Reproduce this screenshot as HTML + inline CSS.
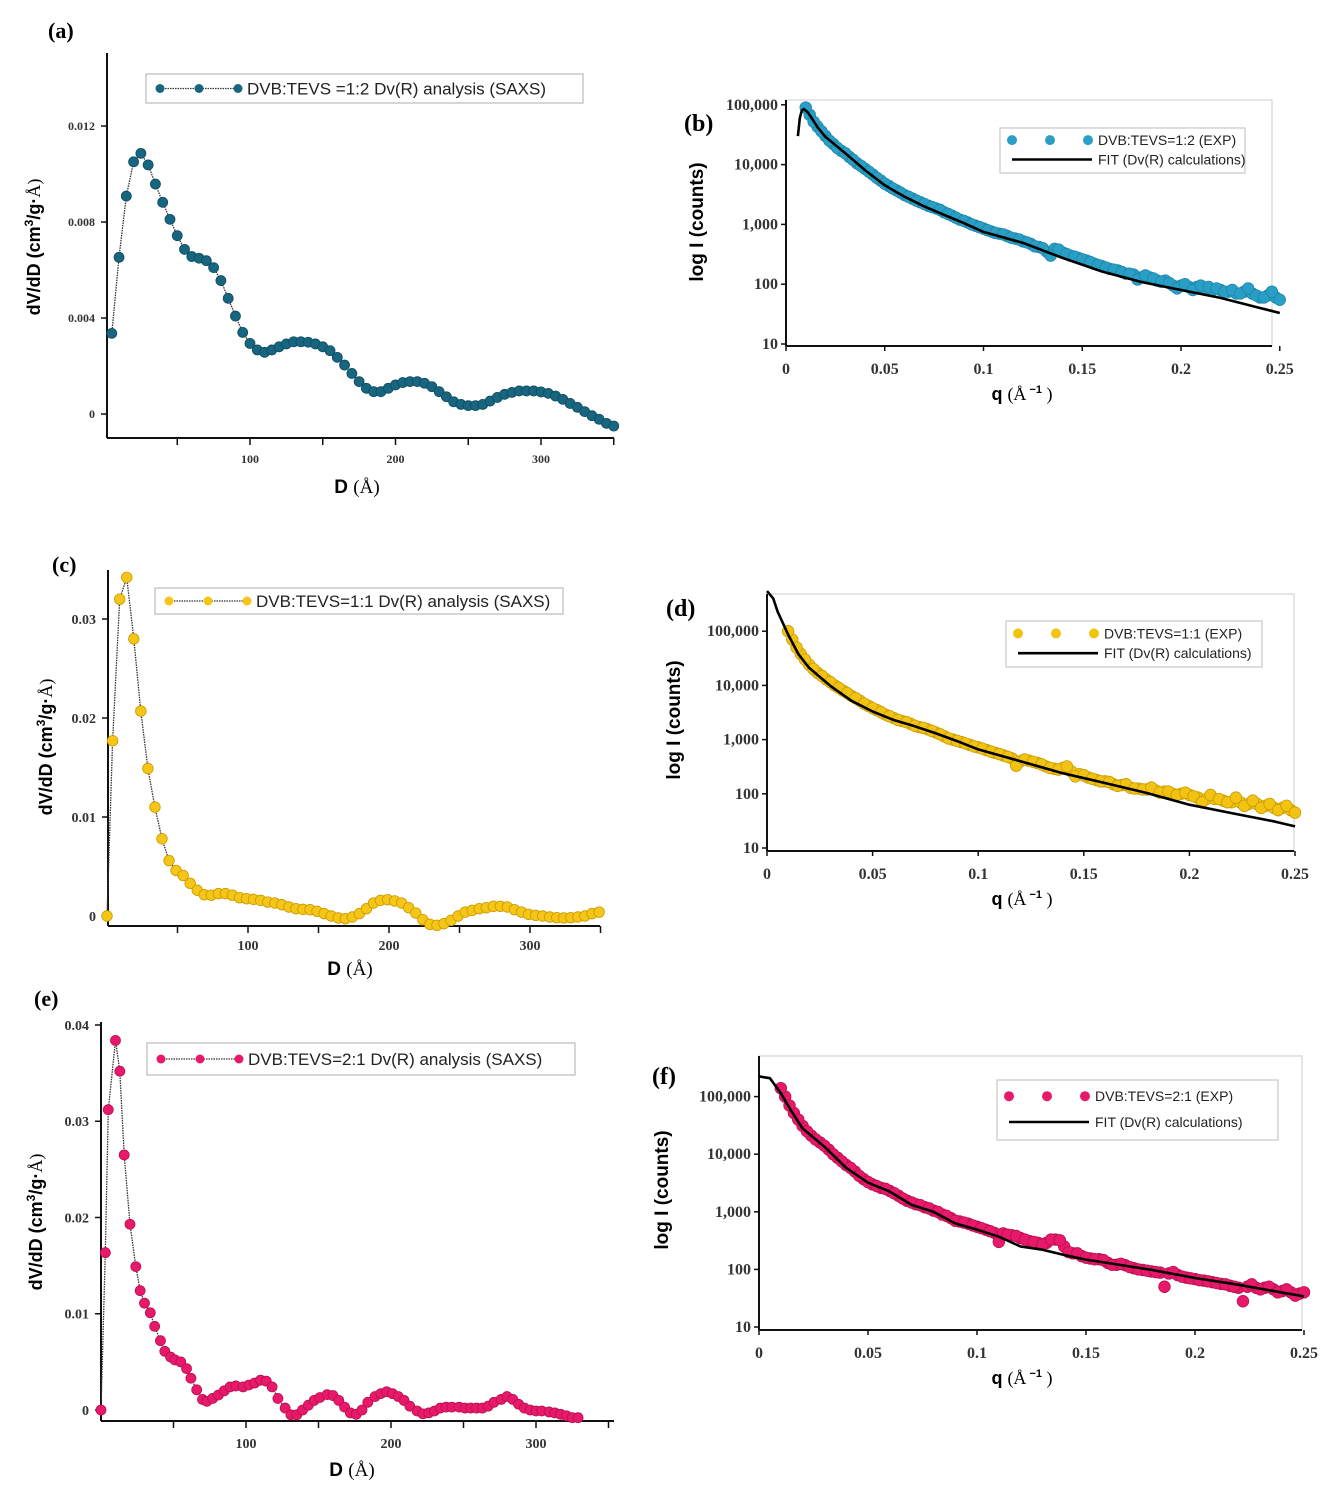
<!DOCTYPE html>
<html><head><meta charset="utf-8"><style>
html,body{margin:0;padding:0;background:#fff}
svg{display:block}
</style></head><body>
<svg id="fig" width="1324" height="1492" viewBox="0 0 1324 1492" xmlns="http://www.w3.org/2000/svg" font-family="Liberation Sans, sans-serif">
</svg>
<script>
// ---------- data: panel (a) ----------
const dA = [5,10,15,20,25,30,35,40,45,50,55,60,65,70,75,80,85,90,95,100,105,110,115,120,125,130,135,140,145,150,155,160,165,170,175,180,185,190,195,200,205,210,215,220,225,230,235,240,245,250,255,260,265,270,275,280,285,290,295,300,305,310,315,320,325,330,335,340,345,350];
const vA = [0.00336,0.00653,0.00908,0.01051,0.01086,0.01038,0.00958,0.00882,0.00811,0.00743,0.00686,0.00656,0.00649,0.00639,0.0061,0.00556,0.00482,0.00408,0.0034,0.00294,0.00267,0.00257,0.00267,0.0028,0.00292,0.00301,0.00301,0.00299,0.00292,0.0028,0.00264,0.00236,0.00204,0.00169,0.00135,0.00107,0.00093,0.00093,0.00107,0.00121,0.00131,0.00135,0.00135,0.00128,0.00114,0.00093,0.00072,0.00051,0.0004,0.00035,0.00035,0.0004,0.00054,0.00069,0.00082,0.0009,0.00096,0.00096,0.00096,0.00092,0.00086,0.00075,0.00061,0.00044,0.00028,0.0001,-0.00007,-0.00022,-0.00039,-0.0005];
const yTicksA = [0,0.004,0.008,0.012];
const yLabelsA = ["0","0.004","0.008","0.012"];
const xTicksA = [100,200,300];
// ---------- data: panel (c) ----------
const dC = [0,4,9,14,19,24,29,34,39,44,49,54,59,64,69,74,79,84,89,94,99,104,109,114,119,124,129,134,139,144,149,154,159,164,169,174,179,184,189,194,199,204,209,214,219,224,229,234,239,244,249,254,259,264,269,274,279,284,289,294,299,304,309,314,319,324,329,334,339,344,349];
const vC = [0,0.0177,0.032,0.0342,0.028,0.0207,0.0149,0.011,0.0078,0.0056,0.0046,0.0041,0.0033,0.0026,0.00215,0.0021,0.00226,0.00226,0.0021,0.00185,0.00175,0.00168,0.00158,0.00141,0.00131,0.00114,0.00091,0.00074,0.00067,0.00064,0.00047,0.00024,0,-0.0002,-0.00027,-0.0001,0.00024,0.00074,0.00131,0.00158,0.00165,0.00152,0.00131,0.00084,0.0003,-0.00037,-0.00084,-0.00094,-0.00077,-0.00044,0,0.0004,0.00057,0.00074,0.00084,0.00098,0.00098,0.00091,0.00064,0.0004,0.00017,0.00007,0,-0.0001,-0.00017,-0.0002,-0.00017,-0.0001,0,0.00024,0.0004];
const yTicksC = [0,0.01,0.02,0.03];
const yLabelsC = ["0","0.01","0.02","0.03"];
const xTicksC = [100,200,300];
// ---------- data: panel (e) ----------
const dE = [0,3,5,10,13,16,20,24,27,30,34,37,41,44,48,51,55,59,62,66,70,73,77,81,85,89,93,98,102,106,110,114,118,122,127,131,135,139,143,147,151,156,160,164,168,172,176,180,184,189,193,197,201,205,209,213,218,222,226,230,234,238,242,247,251,255,259,263,267,271,276,280,284,288,292,296,300,304,309,313,317,321,325,329];
const vE = [0,0.01635,0.0312,0.0384,0.0352,0.0265,0.0193,0.0149,0.0124,0.0111,0.0101,0.0087,0.0072,0.0061,0.0055,0.0052,0.005,0.0043,0.0033,0.0021,0.0011,0.0009,0.0012,0.00156,0.002,0.0024,0.0025,0.0024,0.0026,0.0028,0.0031,0.003,0.0024,0.0012,0.0002,-0.0005,-0.0005,0,0.0005,0.001,0.0013,0.0016,0.0015,0.001,0.0003,-0.0003,-0.00045,0,0.0008,0.0014,0.0017,0.0019,0.0017,0.0014,0.001,0.0004,-0.0001,-0.0004,-0.0003,-0.0001,0.0002,0.0003,0.0003,0.0003,0.0002,0.0002,0.0002,0.0002,0.0004,0.0008,0.0011,0.0014,0.0011,0.0006,0.0002,0,-0.0001,-0.0001,-0.0002,-0.0003,-0.00045,-0.0006,-0.0008,-0.0008];
const yTicksE = [0,0.01,0.02,0.03,0.04];
const yLabelsE = ["0","0.01","0.02","0.03","0.04"];
const xTicksE = [100,200,300];
// ---------- data: log panels ----------
const qExp = [0.010,0.014,0.018,0.022,0.026,0.030,0.034,0.038,0.042,0.046,0.050,0.054,0.058,0.062,0.066,0.070,0.074,0.078,0.082,0.086,0.090,0.094,0.098,0.102,0.106,0.110,0.114,0.118,0.122,0.126,0.130,0.134,0.138,0.142,0.146,0.150,0.154,0.158,0.162,0.166,0.170,0.174,0.178,0.182,0.186,0.190,0.194,0.198,0.202,0.206,0.210,0.214,0.218,0.222,0.226,0.230,0.234,0.238,0.242,0.246,0.250];
const qExp2 = [0.012,0.016,0.020,0.024,0.028,0.032,0.036,0.040,0.044,0.048,0.052,0.056,0.060,0.064,0.068,0.072,0.076,0.080,0.084,0.088,0.092,0.096,0.100,0.104,0.108,0.112,0.116,0.120,0.124,0.128,0.132,0.136,0.140,0.144,0.148,0.152,0.156,0.160,0.164,0.168,0.172,0.176,0.180,0.184,0.188,0.192,0.196,0.200,0.204,0.208,0.212,0.216,0.220,0.224,0.228,0.232,0.236,0.240,0.244,0.248];
const expB = [90000,52000,36000,25000,19000,15500,12000,9500,7600,6000,4800,4000,3400,2900,2500,2200,1950,1750,1500,1300,1150,1000,900,800,720,680,600,560,500,430,400,300,380,320,290,260,235,210,190,175,160,150,120,140,125,110,105,85,100,80,95,90,85,75,80,70,85,65,60,75,55];
const expB2 = [68000,43000,30000,22000,17000,13500,10500,8500,6800,5400,4400,3700,3100,2700,2350,2050,1850,1600,1400,1200,1080,950,850,760,700,640,580,520,470,420,350,390,340,300,275,250,220,200,180,170,150,145,130,130,115,115,95,95,90,90,85,80,80,75,70,75,70,60,65,60];
const qFitB = [0.006,0.007,0.008,0.009,0.011,0.013,0.016,0.02,0.03,0.04,0.05,0.06,0.07,0.08,0.09,0.1,0.12,0.14,0.16,0.18,0.2,0.22,0.24,0.25];
const fitB = [30000,60000,80000,85000,75000,60000,42000,29000,15500,8100,4500,2900,2000,1450,1050,750,490,275,163,109,80,59,40,33];
const expD = [100000,50000,30000,20000,15000,11500,9000,7200,5800,4600,3800,3200,2700,2300,2100,1800,1650,1450,1250,1050,950,850,750,680,600,540,480,330,430,390,350,300,280,320,210,220,190,170,165,140,150,125,120,130,105,110,95,105,90,70,95,80,70,85,60,75,55,65,50,60,45];
const expD2 = [70000,38000,24000,17000,13000,10000,8000,6400,5200,4200,3500,2900,2500,2200,1950,1700,1550,1350,1150,1000,900,800,720,640,570,510,450,400,410,370,320,290,300,260,230,200,180,170,150,145,130,125,120,115,110,100,100,95,85,80,80,75,70,70,65,65,60,55,55,50];
const qFitD = [0,0.003,0.005,0.01,0.015,0.02,0.03,0.04,0.05,0.06,0.07,0.08,0.09,0.1,0.12,0.14,0.16,0.18,0.2,0.22,0.24,0.25];
const fitD = [550000,400000,230000,87000,37000,21000,9800,5200,3300,2300,1760,1300,940,660,400,240,158,103,63,44,31,25];
const expF = [140000,70000,40000,25000,18000,14000,10000,7500,5800,4200,3300,2800,2500,2100,1700,1450,1300,1150,1000,850,700,650,580,520,460,300,400,380,330,300,270,330,320,200,190,160,150,145,120,125,110,100,95,90,50,90,75,70,65,62,58,55,50,28,55,45,50,40,45,35,40];
const expF2 = [100000,52000,31000,21000,16000,12000,8700,6500,5000,3700,3000,2600,2300,1900,1550,1350,1200,1050,900,780,680,620,550,490,430,420,390,350,310,290,290,330,250,190,170,155,150,130,120,118,105,98,92,88,85,80,72,68,64,60,56,52,48,50,48,48,45,42,40,38];
const qFitF = [0,0.005,0.01,0.015,0.02,0.03,0.04,0.05,0.06,0.07,0.08,0.09,0.1,0.11,0.12,0.13,0.14,0.15,0.16,0.18,0.2,0.22,0.25];
const fitF = [224000,209000,115000,55000,28000,13500,5800,3200,2240,1320,1000,630,490,370,250,220,178,148,129,98,71,54,34];
const logTicks = [10,100,1000,10000,100000];
const logLabels = ["10","100","1,000","10,000","100,000"];
const qTicks = [0,0.05,0.1,0.15,0.2,0.25];
const qLabels = ["0","0.05","0.1","0.15","0.2","0.25"];

const NS = "http://www.w3.org/2000/svg";
const svg = document.getElementById('fig');
function mk(tag, attrs, parent, text){
  const e = document.createElementNS(NS, tag);
  for (const k in attrs) e.setAttribute(k, attrs[k]);
  if (text !== undefined) e.textContent = text;
  (parent || svg).appendChild(e);
  return e;
}
function grp(name, parent){
  const g = mk('g', {}, parent);
  
  
  return g;
}
function txt(parent, name, x, y, s, attrs){
  const t = mk('text', Object.assign({x:x, y:y}, attrs), parent, s);
  
  
  return t;
}

// ---------- linear D panels ----------
function linPanel(cfg){
  const g = grp('panel-' + cfg.id);
  const sx = d => cfg.x0 + d * cfg.kx;
  const sy = v => cfg.y0 - v * cfg.ky;
  txt(g, 'panel-label', cfg.lx, cfg.ly, '(' + cfg.id + ')', {'font-family':'Liberation Serif, serif','font-weight':'bold','font-size':22});
  const ax = grp('axes', g);
  mk('line', {x1:cfg.axX, y1:cfg.top, x2:cfg.axX, y2:cfg.axY, stroke:'#111','stroke-width':2}, ax);
  mk('line', {x1:cfg.axX, y1:cfg.axY, x2:cfg.right, y2:cfg.axY, stroke:'#111','stroke-width':2}, ax);
  for (let d = 50; d <= 350; d += 50) mk('line', {x1:sx(d), y1:cfg.axY, x2:sx(d), y2:cfg.axY+7, stroke:'#111','stroke-width':1.5}, ax);
  cfg.xt.forEach(d => txt(ax, 'x-tick-label', sx(d), cfg.axY + cfg.xlo, String(d), {'text-anchor':'middle','font-family':'Liberation Serif, serif','font-size':cfg.tf,'font-weight':'bold','fill':'#333'}));
  cfg.yt.forEach((v,i) => {
    mk('line', {x1:cfg.axX-6, y1:sy(v), x2:cfg.axX, y2:sy(v), stroke:'#111','stroke-width':1.5}, ax);
    txt(ax, 'y-tick-label', cfg.axX-12, sy(v)+cfg.tf*0.35, cfg.yl[i], {'text-anchor':'end','font-family':'Liberation Serif, serif','font-size':cfg.tf,'font-weight':'bold','fill':'#333'});
  });
  const xt = txt(ax, 'x-axis-title', cfg.xtx, cfg.xty, '', {'text-anchor':'middle','font-size':19,'font-weight':'bold'});
  mk('tspan', {}, xt, 'D ');
  mk('tspan', {'font-family':'Liberation Serif, serif','font-weight':'normal'}, xt, '(Å)');
  const yt = txt(ax, 'y-axis-title', 0, 0, '', {'text-anchor':'middle','font-size':18,'font-weight':'bold','transform':'translate(' + cfg.ytx + ',' + cfg.yty + ') rotate(-90)'});
  mk('tspan', {}, yt, 'dV/dD (cm');
  mk('tspan', {'font-size':12, dy:-7}, yt, '3');
  mk('tspan', {dy:7}, yt, '/g·');
  mk('tspan', {'font-family':'Liberation Serif, serif','font-weight':'normal'}, yt, 'Å)');
  const s = grp('series', g);
  const pts = cfg.d.map((d,i) => sx(d).toFixed(1) + ',' + sy(cfg.v[i]).toFixed(1)).join(' ');
  const pl = mk('polyline', {points:pts, fill:'none', stroke:'#333','stroke-width':1.3,'stroke-dasharray':'1.5,1'}, s);
  
  
  cfg.d.forEach((d,i) => {
    const c = mk('circle', {cx:sx(d), cy:sy(cfg.v[i]), r:cfg.r, fill:cfg.color, stroke:cfg.stroke,'stroke-width':0.8}, s);
    
    
  });
  const lg = grp('legend', g);
  mk('rect', {x:cfg.lgx, y:cfg.lgy, width:cfg.lgw, height:cfg.lgh, fill:'#fff', stroke:'#bbb','stroke-width':1.2}, lg);
  const cy = cfg.lgy + cfg.lgh/2;
  mk('line', {x1:cfg.lgx+14, y1:cy, x2:cfg.lgx+92, y2:cy, stroke:'#333','stroke-width':1.3,'stroke-dasharray':'1.5,1'}, lg);
  [14,53,92].forEach(o => mk('circle', {cx:cfg.lgx+o, cy:cy, r:4.5, fill:cfg.color}, lg));
  txt(lg, 'legend-label', cfg.lgx+101, cy+6, cfg.label, {'font-size':17,'fill':'#222'});
}

linPanel({id:'a', d:dA, v:vA, x0:104.5, kx:1.455, y0:414, ky:24000, axX:107, axY:438, top:53, right:614,
  yt:yTicksA, yl:yLabelsA, xt:xTicksA, tf:12, xlo:25, lx:48, ly:38, xtx:357, xty:493, ytx:40, yty:247,
  color:'#17657f', stroke:'#0f4c60', r:5, lgx:146, lgy:74, lgw:437, lgh:29, label:'DVB:TEVS =1:2 Dv(R) analysis (SAXS)'});
linPanel({id:'c', d:dC, v:vC, x0:107, kx:1.41, y0:916, ky:9900, axX:108, axY:926, top:570, right:600,
  yt:yTicksC, yl:yLabelsC, xt:xTicksC, tf:14, xlo:24, lx:52, ly:572, xtx:350, xty:975, ytx:52, yty:747,
  color:'#f5c518', stroke:'#c99b00', r:5.3, lgx:155, lgy:588, lgw:408, lgh:26, label:'DVB:TEVS=1:1 Dv(R) analysis (SAXS)'});
linPanel({id:'e', d:dE, v:vE, x0:101, kx:1.45, y0:1410, ky:9625, axX:101, axY:1421, top:1022, right:614,
  yt:yTicksE, yl:yLabelsE, xt:xTicksE, tf:14, xlo:27, lx:34, ly:1006, xtx:352, xty:1476, ytx:42, yty:1222,
  color:'#e8196a', stroke:'#b8104f', r:5, lgx:147, lgy:1043, lgw:428, lgh:32, label:'DVB:TEVS=2:1 Dv(R) analysis (SAXS)'});

// ---------- log panels ----------
function logPanel(cfg){
  const g = grp('panel-' + cfg.id);
  const sx = q => cfg.x0 + q * cfg.kx;
  const sy = I => cfg.y10 - (Math.log10(I) - 1) * cfg.dec;
  mk('rect', {x:cfg.x0, y:cfg.top, width:cfg.right-cfg.x0, height:cfg.axY-cfg.top, fill:'none', stroke:'#d4d4d4','stroke-width':1.2}, g);
  txt(g, 'panel-label', cfg.lx, cfg.ly, '(' + cfg.id + ')', {'font-family':'Liberation Serif, serif','font-size':24,'font-weight':'bold'});
  const ax = grp('axes', g);
  mk('line', {x1:cfg.x0, y1:cfg.top, x2:cfg.x0, y2:cfg.axY, stroke:'#111','stroke-width':2}, ax);
  mk('line', {x1:cfg.x0, y1:cfg.axY, x2:cfg.right, y2:cfg.axY, stroke:'#111','stroke-width':2}, ax);
  qTicks.forEach((q,i) => {
    mk('line', {x1:sx(q), y1:cfg.axY, x2:sx(q), y2:cfg.axY+5, stroke:'#111','stroke-width':1.5}, ax);
    txt(ax, 'x-tick-label', sx(q), cfg.axY+28, qLabels[i], {'text-anchor':'middle','font-family':'Liberation Serif, serif','font-size':16,'font-weight':'bold','fill':'#333'});
  });
  logTicks.forEach((t,i) => {
    mk('line', {x1:cfg.x0-5, y1:sy(t), x2:cfg.x0, y2:sy(t), stroke:'#111','stroke-width':1.5}, ax);
    txt(ax, 'y-tick-label', cfg.x0-8, sy(t)+5, logLabels[i], {'text-anchor':'end','font-family':'Liberation Serif, serif','font-size':16,'font-weight':'bold','fill':'#333'});
  });
  const xt = txt(ax, 'x-axis-title', 1022, cfg.axY+54, '', {'text-anchor':'middle','font-size':18,'font-weight':'bold'});
  mk('tspan', {}, xt, 'q ');
  mk('tspan', {'font-family':'Liberation Serif, serif','font-weight':'normal'}, xt, '(Å');
  mk('tspan', {'font-size':11, dy:-7}, xt, ' −1');
  mk('tspan', {dy:7,'font-family':'Liberation Serif, serif','font-weight':'normal'}, xt, ' )');
  txt(ax, 'y-axis-title', 0, 0, 'log I (counts)', {'text-anchor':'middle','font-size':19,'font-weight':'bold','transform':'translate(' + cfg.ytx + ',' + cfg.yty + ') rotate(-90)'});
  const s = grp('exp-series', g);
  qExp2.forEach((q,i) => {
    const c = mk('circle', {cx:sx(q), cy:sy(cfg.exp2[i]), r:5.8, fill:cfg.color, stroke:cfg.stroke,'stroke-width':0.8}, s);
    
    
  });
  qExp.forEach((q,i) => {
    const c = mk('circle', {cx:sx(q), cy:sy(cfg.exp[i]), r:5.8, fill:cfg.color, stroke:cfg.stroke,'stroke-width':0.8}, s);
    
    
  });
  const fp = cfg.qf.map((q,i) => sx(q).toFixed(1) + ',' + sy(cfg.fit[i]).toFixed(1)).join(' ');
  const fl = mk('polyline', {points:fp, fill:'none', stroke:'#000','stroke-width':2.6,'stroke-linejoin':'round'}, g);
  
  
  const lg = grp('legend', g);
  mk('rect', {x:cfg.lgx, y:cfg.lgy, width:cfg.lgw, height:cfg.lgh, fill:'#fff', stroke:'#c8c8c8','stroke-width':1.2}, lg);
  const y1 = cfg.lgy + cfg.lgh*0.27, y2 = cfg.lgy + cfg.lgh*0.7;
  [12,50,88].forEach(o => mk('circle', {cx:cfg.lgx+o, cy:y1, r:5, fill:cfg.color}, lg));
  txt(lg, 'legend-exp-label', cfg.lgx+98, y1+5, cfg.label, {'font-size':14,'fill':'#222'});
  mk('line', {x1:cfg.lgx+12, y1:y2, x2:cfg.lgx+92, y2:y2, stroke:'#000','stroke-width':2.6}, lg);
  txt(lg, 'legend-fit-label', cfg.lgx+98, y2+5, 'FIT (Dv(R) calculations)', {'font-size':14,'fill':'#222'});
}

logPanel({id:'b', exp:expB, exp2:expB2, qf:qFitB, fit:fitB, x0:786, kx:1975, y10:344, dec:59.8, top:100, axY:346, right:1272,
  lx:684, ly:131, ytx:703, yty:222, color:'#2a9fc6', stroke:'#1d86aa', label:'DVB:TEVS=1:2 (EXP)',
  lgx:1000, lgy:128, lgw:245, lgh:45});
logPanel({id:'d', exp:expD, exp2:expD2, qf:qFitD, fit:fitD, x0:767, kx:2112, y10:848, dec:54.2, top:594, axY:851, right:1294,
  lx:666, ly:616, ytx:680, yty:720, color:'#f3c313', stroke:'#c89b00', label:'DVB:TEVS=1:1 (EXP)',
  lgx:1006, lgy:621, lgw:256, lgh:46});
logPanel({id:'f', exp:expF, exp2:expF2, qf:qFitF, fit:fitF, x0:759, kx:2180, y10:1327, dec:57.6, top:1056, axY:1330, right:1302,
  lx:652, ly:1084, ytx:668, yty:1190, color:'#e8196a', stroke:'#b8104f', label:'DVB:TEVS=2:1 (EXP)',
  lgx:997, lgy:1080, lgw:281, lgh:60});
</script>
</body></html>
